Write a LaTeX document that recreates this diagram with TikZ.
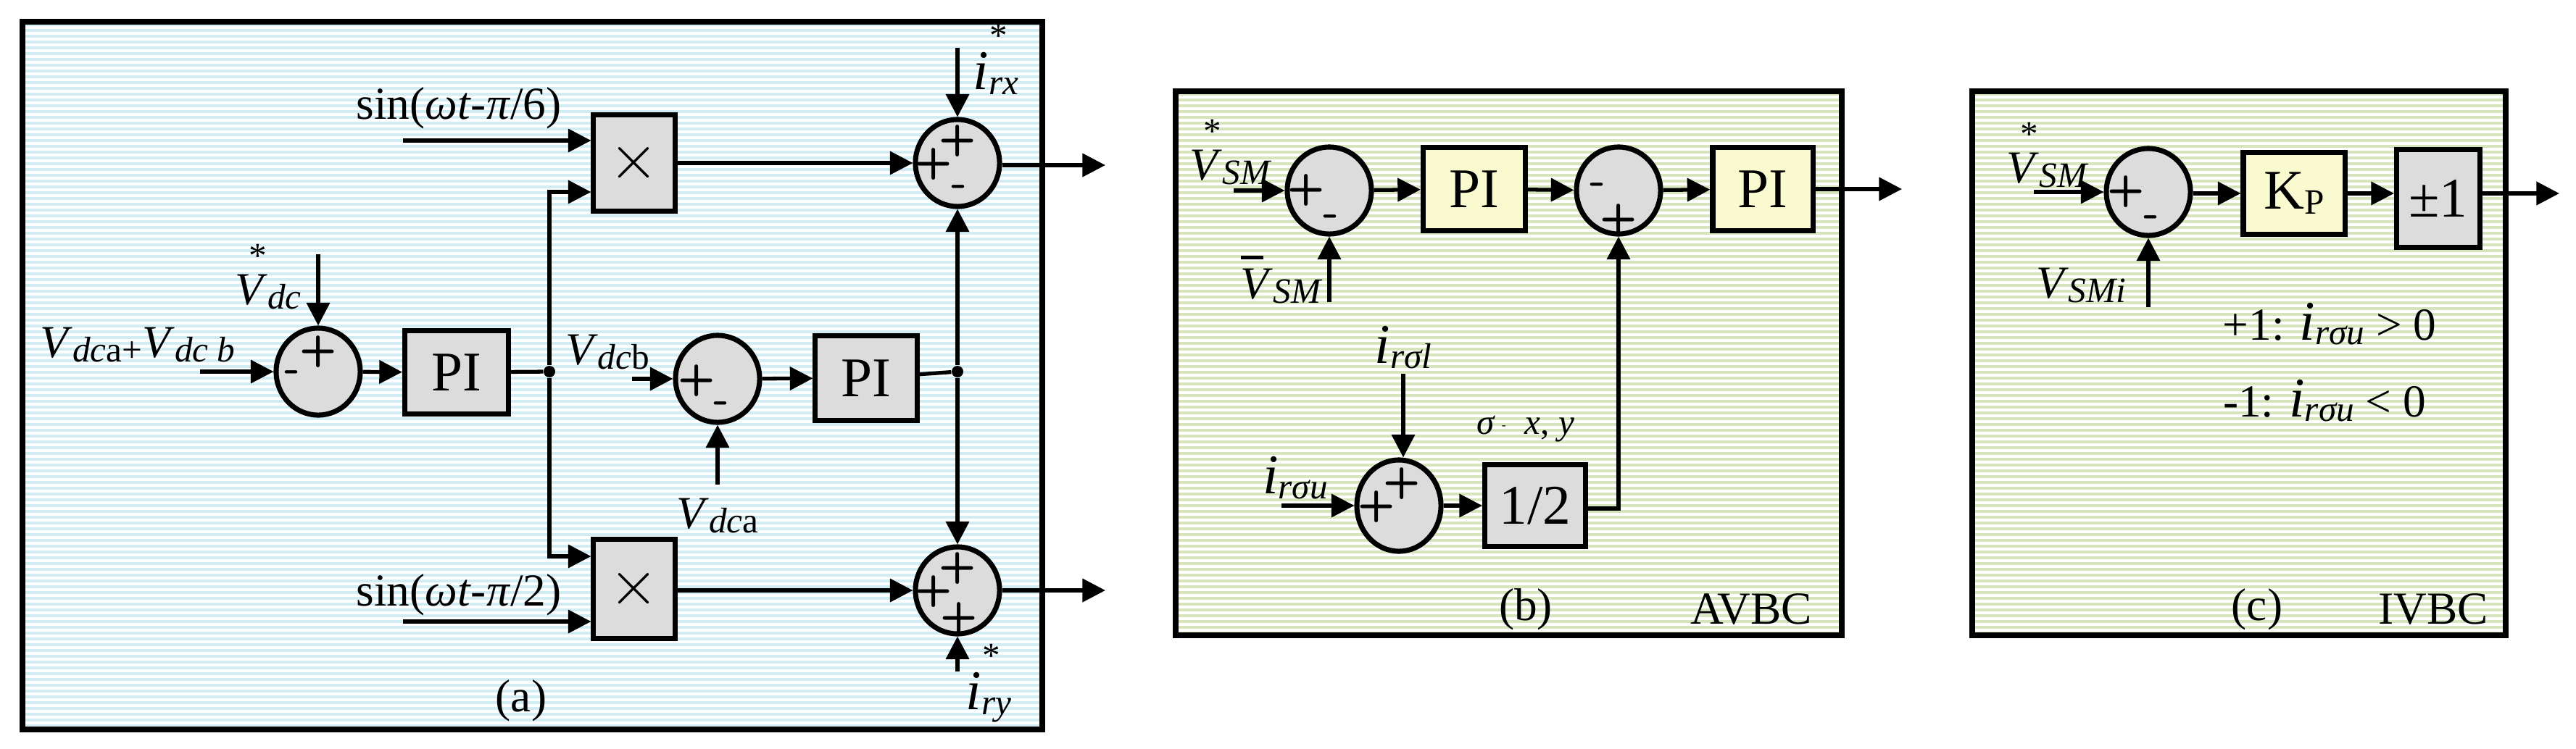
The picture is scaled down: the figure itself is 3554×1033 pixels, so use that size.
\documentclass[tikz,border=0pt]{standalone}
\usepackage{fontspec}
\setmainfont{Liberation Serif}
\usetikzlibrary{shapes.geometric,arrows.meta,calc}
\definecolor{bstripe}{RGB}{210,236,243}
\definecolor{gstripe}{RGB}{214,229,190}
\definecolor{sumfill}{RGB}{220,220,220}
\definecolor{yfill}{RGB}{250,250,208}
\newcommand\lsub[1]{\raisebox{-0.2ex}{\fontsize{14}{14}\selectfont #1}}
\newcommand\stV{\rlap{\hspace{0.3em}\raisebox{0.8em}{\fontsize{14}{14}\selectfont *}}\textit{V}}
\newcommand\sti{\rlap{\hspace{0.3em}\raisebox{0.75em}{\fontsize{14}{14}\selectfont *}}\textit{i}}
\tikzset{
 x=0.01cm,y=-0.01cm,
 panel/.style={line width=2.2pt},
 sum/.style={ellipse,draw,line width=2pt,fill=sumfill,minimum width=1.16cm,minimum height=1.2cm,inner sep=0pt},
 blk/.style={rectangle,draw,line width=2pt,fill=sumfill,inner sep=0pt,font=\fontsize{22}{22}\selectfont},
 ylk/.style={blk,fill=yfill},
 arr/.style={line width=1.5pt,-{Triangle[length=9pt,width=9pt]}},
 ln/.style={line width=1.5pt},
 sg/.style={font=\sffamily\bfseries\fontsize{17}{17}\selectfont,inner sep=0pt},
 lbl/.style={font=\fontsize{18}{18}\selectfont,inner sep=0pt},
 dot/.style={circle,fill,inner sep=0pt,minimum size=0.16cm}
}
\begin{document}
\begin{tikzpicture}
\useasboundingbox (0,0) rectangle (3554,1033);
% backgrounds
\fill[white] (31,30) rectangle (1438,1007);
\foreach \k in {0,...,121} \fill[bstripe] (31,{32+8*\k}) rectangle (1438,{36+8*\k});
\draw[panel] (31,30) rectangle (1438,1007);
\fill[white] (1622,126) rectangle (2541,877);
\foreach \k in {0,...,93} \fill[gstripe] (1622,{128+8*\k}) rectangle (2541,{132+8*\k});
\draw[panel] (1622,126) rectangle (2541,877);
\fill[white] (2721,126) rectangle (3457,877);
\foreach \k in {0,...,93} \fill[gstripe] (2721,{128+8*\k}) rectangle (3457,{132+8*\k});
\draw[panel] (2721,126) rectangle (3457,877);

% ---------- panel (a)
\node[sum] (c1) at (439,513) {};
\node[blk,minimum width=1.43cm,minimum height=1.14cm] (pi1) at (630,514) {PI};
\node[dot] (j1) at (758,513) {};
\node[blk,minimum width=1.12cm,minimum height=1.32cm] (m1) at (875,225) {\fontsize{30}{30}\selectfont$\times$};
\node[blk,minimum width=1.12cm,minimum height=1.36cm] (m2) at (875,813) {\fontsize{30}{30}\selectfont$\times$};
\node[sum] (c2) at (990,523) {};
\node[blk,minimum width=1.4cm,minimum height=1.17cm] (pi2) at (1195,522) {PI};
\node[dot] (j2) at (1321,513) {};
\node[sum] (s1) at (1321,225) {};
\node[sum] (s2) at (1321,815) {};
\coordinate (inA) at (276,513);
\coordinate (inVdc) at (439,351);
\coordinate (inVb) at (872,523);
\coordinate (inVa) at (990,669);
\coordinate (sinA) at (556,194);
\coordinate (sinB) at (556,858);
\coordinate (irx) at (1321,66);
\coordinate (iry) at (1321,927);
\coordinate (oA) at (1525,228);
\coordinate (oB) at (1525,815);
\draw[arr] (inA) -- (c1);
\draw[arr] (inVdc) -- (c1);
\draw[arr] (c1) -- (pi1);
\draw[ln] (pi1) -- (j1);
\draw[arr] (j1) |- ([yshift=-0.4cm]m1.west);
\draw[arr] (j1) |- ([yshift=0.45cm]m2.west);
\draw[arr] (sinA) -- (sinA-|m1.west);
\draw[arr] (sinB) -- (sinB-|m2.west);
\draw[arr] (inVb) -- (c2);
\draw[arr] (inVa) -- (c2);
\draw[arr] (c2) -- (pi2);
\draw[ln] (pi2) -- (j2);
\draw[arr] (j2) -- (s1);
\draw[arr] (j2) -- (s2);
\draw[arr] (m1.east|-s1) -- (s1);
\draw[arr] (m2.east|-s2) -- (s2);
\draw[arr] (irx) -- (s1);
\draw[arr] (iry) -- (s2);
\draw[arr] (s1.east|-oA) -- (oA);
\draw[arr] (s2) -- (oB);
\node[sg] at ($(c1)+(0,-27)$) {+};
\node[sg] at ($(c1)+(-36,7)$) {-};
\node[sg] at ($(c2)+(-29,3)$) {+};
\node[sg] at ($(c2)+(5,40)$) {-};
\node[sg] at ($(s1)+(0,-30)$) {+};
\node[sg] at ($(s1)+(-33,2)$) {+};
\node[sg] at ($(s1)+(2,39)$) {-};
\node[sg] at ($(s2)+(0,-30)$) {+};
\node[sg] at ($(s2)+(-33,2)$) {+};
\node[sg] at ($(s2)+(2,39)$) {+};
\node[lbl] (t1) at (633,149) {sin(\textit{ωt}-\textit{π}/6)};
\node[lbl] (t2) at (633,821) {sin(\textit{ωt}-\textit{π}/2)};
\node[lbl] (t3) at (190,476) {\textit{V}\lsub{\textit{dc}a}\lsub{+}\textit{V}\lsub{\textit{dc b}}};
\node[lbl] (t4) at (370,382) {\stV\lsub{\textit{dc}}};
\node[lbl] (t5) at (838,486) {\textit{V}\lsub{\textit{dc}b}};
\node[lbl] (t6) at (990,712) {\textit{V}\lsub{\textit{dc}a}};
\node[lbl,font=\fontsize{22}{22}\selectfont] (t7) at (1374,82) {\sti\lsub{\textit{rx}}};
\node[lbl,font=\fontsize{22}{22}\selectfont] (t8) at (1364,943) {\sti\lsub{\textit{ry}}};
\node[lbl] (t9) at (719,967) {(a)};

% ---------- panel (b)
\node[sum] (b1) at (1834,263) {};
\node[ylk,minimum width=1.41cm,minimum height=1.14cm] (bp1) at (2034,261) {PI};
\node[sum] (b2) at (2233,263) {};
\node[ylk,minimum width=1.38cm,minimum height=1.14cm] (bp2) at (2432,261) {PI};
\node[sum,minimum height=1.26cm] (b3) at (1930,698) {};
\node[blk,minimum width=1.39cm,minimum height=1.13cm] (bh) at (2118,698) {1/2};
\coordinate (bin1) at (1702,263);
\coordinate (bin2) at (1834,417);
\coordinate (bin3) at (1936,516);
\coordinate (bin4) at (1768,698);
\coordinate (bout) at (2624,261);
\coordinate (bc) at (2233,702);
\draw[arr] (bin1) -- (b1);
\draw[arr] (bin2) -- (b1);
\draw[arr] (b1) -- (bp1);
\draw[arr] (bp1) -- (b2);
\draw[arr] (b2) -- (bp2);
\draw[arr] (bp2) -- (bout);
\draw[arr] (bin3) -- (bin3|-b3.north);
\draw[arr] (bin4) -- (b3);
\draw[arr] (b3) -- (bh);
\draw[arr] (bh.east|-bc) -- (bc) -- (b2);
\node[sg] at ($(b1)+(-32,0)$) {+};
\node[sg] at ($(b1)+(2,42)$) {-};
\node[sg] at ($(b2)+(-29,-2)$) {-};
\node[sg] at ($(b2)+(0,41)$) {+};
\node[sg] at ($(b3)+(4,-30)$) {+};
\node[sg] at ($(b3)+(-31,2)$) {+};
\node[lbl] (u1) at (1698,210) {\stV\lsub{\textit{SM}}};
\node[lbl] (u2) at (1768,386) {\rlap{\raisebox{0.85em}{\rule{0.5em}{1.4pt}}}\textit{V}\lsub{\textit{SM}}};
\node[lbl,font=\fontsize{22}{22}\selectfont] (u3) at (1936,480) {\textit{i}\lsub{\textit{rσl}}};
\node[lbl,font=\fontsize{22}{22}\selectfont] (u4) at (1787,660) {\textit{i}\lsub{\textit{rσu}}};
\node[lbl,font=\fontsize{14}{14}\selectfont] (u5) at (2105,592) {\textit{σ}\,\raisebox{0.3ex}{\tiny -}\; \textit{x}, \textit{y}};
\node[lbl] (u6) at (2105,841) {(b)};
\node[lbl] (u7) at (2416,841) {AVBC};

% ---------- panel (c)
\node[sum] (k1) at (2964,265) {};
\node[ylk,minimum width=1.4cm,minimum height=1.13cm] (kp) at (3165,267) {K\lsub{P}};
\node[blk,minimum width=1.15cm,minimum height=1.35cm] (pm) at (3364,274) {±1};
\coordinate (kin1) at (2806,265);
\coordinate (kin2) at (2964,424);
\coordinate (kout) at (3531,267);
\draw[arr] (kin1) -- (k1);
\draw[arr] (kin2) -- (k1);
\draw[arr] (k1.east|-kp) -- (kp);
\draw[arr] (kp) -- (kp-|pm.west);
\draw[arr] (kp-|pm.east) -- (kout);
\node[sg] at ($(k1)+(-31,0)$) {+};
\node[sg] at ($(k1)+(4,41)$) {-};
\node[lbl] (v1) at (2825,214) {\stV\lsub{\textit{SM}}};
\node[lbl] (v2) at (2871,394) {\textit{V}\lsub{\textit{SMi}}};
\node[lbl] (v3) at (3214,447) {+1: {\fontsize{22}{22}\selectfont\textit{i}}\lsub{\textit{rσu}} > 0};
\node[lbl] (v4) at (3207,553) {-1: {\fontsize{22}{22}\selectfont\textit{i}}\lsub{\textit{rσu}} < 0};
\node[lbl] (v5) at (3114,841) {(c)};
\node[lbl] (v6) at (3357,841) {IVBC};
\end{tikzpicture}
\end{document}
